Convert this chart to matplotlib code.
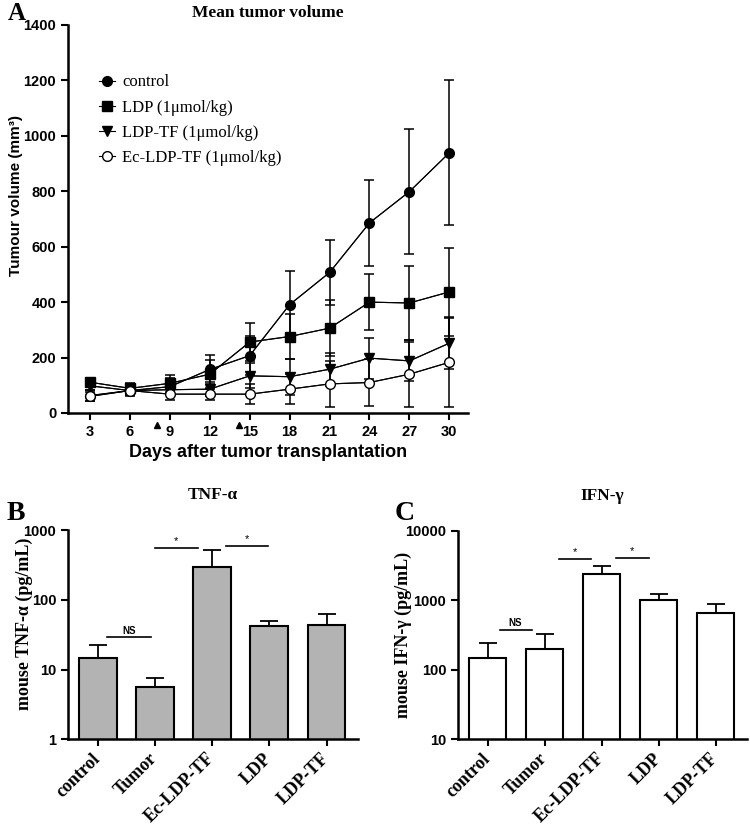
import matplotlib
matplotlib.use("Agg")
import matplotlib.pyplot as plt
import matplotlib.transforms as mtransforms
import numpy as np

# ---------------- data ----------------
days = [3, 6, 9, 12, 15, 18, 21, 24, 27, 30]
control = [63, 81, 95, 157, 207, 391, 507, 686, 799, 939]
control_sd = [20, 20, 30, 52, 70, 123, 118, 155, 225, 262]
ldp = [111, 89, 107, 140, 256, 276, 306, 400, 397, 437]
ldp_sd = [15, 18, 30, 50, 68, 80, 100, 101, 135, 160]
ldptf = [98, 81, 84, 86, 134, 131, 158, 198, 188, 252]
ldptf_sd = [15, 15, 20, 25, 45, 65, 60, 74, 74, 95]
ec = [60, 81, 68, 68, 68, 86, 105, 110, 140, 183]
ec_sd = [15, 15, 20, 20, 35, 55, 82, 84, 117, 160]
treatment_days = [8, 14.2]

groups = ["control", "Tumor", "Ec-LDP-TF", "LDP", "LDP-TF"]
tnf = [14.5, 5.7, 297, 42.4, 43.4]
tnf_err = [7.9, 1.85, 218, 7.1, 18.3]
ifn = [146, 199, 2366, 1010, 663]
ifn_err = [94, 131, 747, 209, 222]

# significance brackets: (x0, x1, y, text)
tnf_sig = [(0.16, 0.93, 29, "NS"), (1.0, 1.75, 556, "*"), (2.25, 2.98, 594, "*")]
ifn_sig = [(0.21, 0.77, 374, "NS"), (1.26, 1.82, 3970, "*"), (2.25, 2.83, 4100, "*")]

SERIF = "Liberation Serif"
SANS = "Liberation Sans"

fig = plt.figure(figsize=(7.5, 8.25), dpi=100)

def style_axes(ax):
    for s in ["top", "right"]:
        ax.spines[s].set_visible(False)
    for s in ["left", "bottom"]:
        ax.spines[s].set_linewidth(1.8)
    ax.tick_params(which="major", direction="out", length=5, width=1.5)
    ax.tick_params(which="minor", length=0)

# ---------------- Panel A ----------------
axA = fig.add_axes([68/750, 1-413/825, 400/750, 388/825])
series = [
    (control, control_sd, "o", "black", "control"),
    (ldp, ldp_sd, "s", "black", "LDP (1\u03bcmol/kg)"),
    (ldptf, ldptf_sd, "v", "black", "LDP-TF (1\u03bcmol/kg)"),
    (ec, ec_sd, "o", "white", "Ec-LDP-TF (1\u03bcmol/kg)"),
]
for vals, sd, mk, fc, lab in series:
    axA.errorbar(days, vals, yerr=sd, fmt="-", color="black", lw=0.8,
                 elinewidth=1.1, capsize=3.5, capthick=1.1, zorder=2)
    axA.plot(days, vals, marker=mk, ls="-", lw=0.8, color="black",
             mfc=fc, mec="black", ms=7, mew=1.0, label=lab, zorder=3)
axA.set_xlim(1.35, 31.4)
axA.set_ylim(0, 1400)
style_axes(axA)
axA.set_xticks(days)
axA.set_xticklabels([str(d) for d in days], fontfamily=SANS,
                    fontweight="bold", fontsize=10.5)
yt = np.arange(0, 1401, 200)
axA.set_yticks(yt)
axA.set_yticklabels([str(v) for v in yt], fontfamily=SANS,
                    fontweight="bold", fontsize=10.5)
axA.set_xlabel("Days after tumor transplantation", fontfamily=SANS,
               fontweight="bold", fontsize=13, labelpad=4)
axA.set_ylabel("Tumour volume (mm\u00b3)", fontfamily=SANS,
               fontweight="bold", fontsize=11)
axA.yaxis.set_label_coords(-0.112, 0.56)
axA.set_title("Mean tumor volume", fontfamily=SERIF, fontweight="bold",
              fontsize=12.5, pad=6)
trans = mtransforms.blended_transform_factory(axA.transData, axA.transAxes)
axA.plot(treatment_days, [-0.03]*len(treatment_days), marker="^", ls="none",
         color="black", ms=4, transform=trans, clip_on=False)
leg = axA.legend(loc="upper left", bbox_to_anchor=(0.06, 0.89), frameon=False,
                 prop={"family": SERIF, "size": 12}, handlelength=1.0,
                 handletextpad=0.4, labelspacing=0.55, borderaxespad=0)
fig.text(8/750, 1-13/825, "A", fontfamily=SERIF, fontweight="bold",
         fontsize=18, va="center", ha="left")

# ---------------- Bar panels ----------------
def bar_panel(rect, vals, errs, fc, ylim, yticks, ylabel, label_xy, title,
              sig, letter, letter_x):
    ax = fig.add_axes(rect)
    x = np.arange(len(groups))
    ax.bar(x, vals, width=0.66, color=fc, edgecolor="black", linewidth=1.5,
           zorder=2)
    ax.errorbar(x, vals, yerr=[np.zeros(len(vals)), errs], fmt="none",
                ecolor="black", elinewidth=1.3, capsize=6.5, capthick=1.3,
                zorder=1)
    ax.set_yscale("log")
    ax.set_ylim(*ylim)
    ax.set_xlim(-0.52, 4.55)
    style_axes(ax)
    ax.minorticks_off()
    ax.set_xticks(x)
    ax.set_xticklabels(groups, rotation=45, ha="right", va="center",
                       rotation_mode="anchor", fontfamily=SERIF,
                       fontweight="bold", fontsize=13)
    ax.tick_params(axis="x", pad=7)
    ax.set_yticks(yticks)
    ax.set_yticklabels([str(v) for v in yticks], fontfamily=SANS,
                       fontweight="bold", fontsize=10.5)
    ax.set_ylabel(ylabel, fontfamily=SERIF, fontweight="bold", fontsize=13)
    ax.yaxis.set_label_coords(*label_xy)
    ax.set_title(title, fontfamily=SERIF, fontweight="bold", fontsize=12.5,
                 pad=22)
    for x0, x1, y, t in sig:
        ax.plot([x0, x1], [y, y], color="black", lw=1.2, clip_on=False)
        ax.text((x0 + x1) / 2, y * 1.06, t, ha="center", va="bottom",
                fontfamily=SANS, fontsize=7 if t == "NS" else 8,
                fontweight="bold" if t == "NS" else "normal")
    fig.text(letter_x, 1-513/825, letter, fontfamily=SERIF,
             fontweight="bold", fontsize=20, va="center", ha="left")
    return ax

axB = bar_panel([68/750, 1-739.3/825, 290/750, 209.3/825], tnf, tnf_err,
                "#b3b3b3", (1, 1000), [1, 10, 100, 1000],
                "mouse TNF-\u03b1 (pg/mL)", (-0.12, 0.55), "TNF-\u03b1",
                tnf_sig, "B", 7/750)

axC = bar_panel([458/750, 1-739.3/825, 289/750, 208.6/825], ifn, ifn_err,
                "white", (10, 10000), [10, 100, 1000, 10000],
                "mouse IFN-\u03b3 (pg/mL)", (-0.16, 0.5), "IFN-\u03b3",
                ifn_sig, "C", 395/750)

fig.savefig("out.png", dpi=100)
